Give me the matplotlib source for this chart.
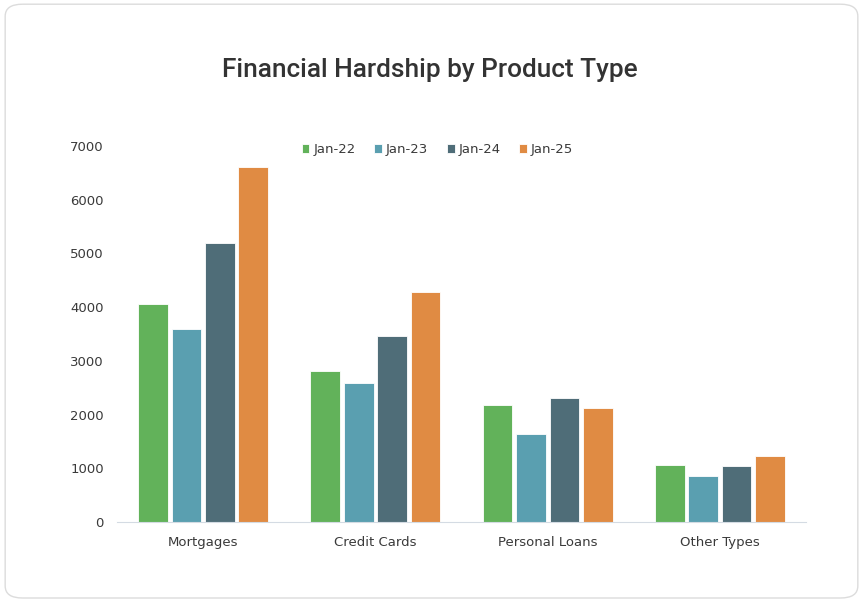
import matplotlib.pyplot as plt
import numpy as np
from matplotlib.patches import FancyBboxPatch

# Data
categories = ["Mortgages", "Credit Cards", "Personal Loans", "Other Types"]
series_names = ["Jan-22", "Jan-23", "Jan-24", "Jan-25"]
jan22 = [4050, 2810, 2180, 1060]
jan23 = [3600, 2590, 1640, 860]
jan24 = [5200, 3460, 2310, 1040]
jan25 = [6610, 4280, 2120, 1230]
colors = ["#62b25a", "#5a9fb0", "#4f6d78", "#e08b43"]

fig = plt.figure(figsize=(8.63, 6.01), dpi=100)

# card border
card = FancyBboxPatch((0.006, 0.005), 0.988, 0.988, boxstyle="round,pad=0,rounding_size=0.02",
                      transform=fig.transFigure, facecolor="none", edgecolor="#dcdcdc",
                      linewidth=1, zorder=-1)
fig.patches.append(card)

ax = fig.add_axes([0.1356, 0.1314, 0.7984, 0.6256])
ax.set_facecolor("none")

x = np.arange(len(categories))
pitch = 0.194
width = 0.172
for i, (name, vals) in enumerate(zip(series_names, [jan22, jan23, jan24, jan25])):
    ax.bar(x + (i - 1.5) * pitch, vals, width, color=colors[i], label=name,
           edgecolor="white", linewidth=0.6)

ax.set_xlim(-0.5, 3.5)
ax.set_ylim(0, 7000)
ax.set_yticks(range(0, 7001, 1000))
ax.set_xticks(x)
ax.set_xticklabels(categories)
ax.tick_params(axis="both", length=0, labelsize=9.5, labelcolor="#3a3a3a")
ax.tick_params(axis="x", pad=10)
ax.tick_params(axis="y", pad=9.5)
for s in ["top", "right", "left"]:
    ax.spines[s].set_visible(False)
ax.spines["bottom"].set_color("#d4dbe3")

fig.text(0.498, 0.883, "Financial Hardship by Product Type", ha="center", va="center",
         fontsize=18.9, fontfamily="Roboto", fontweight="medium", color="#333333")

ax.legend(loc="center", bbox_to_anchor=(0.465, 0.99), ncol=4, frameon=False,
          handlelength=0.6, handleheight=0.6, handletextpad=0.3, columnspacing=1.4,
          fontsize=9.5, labelcolor="#3a3a3a")

fig.savefig("out.png", dpi=100)
